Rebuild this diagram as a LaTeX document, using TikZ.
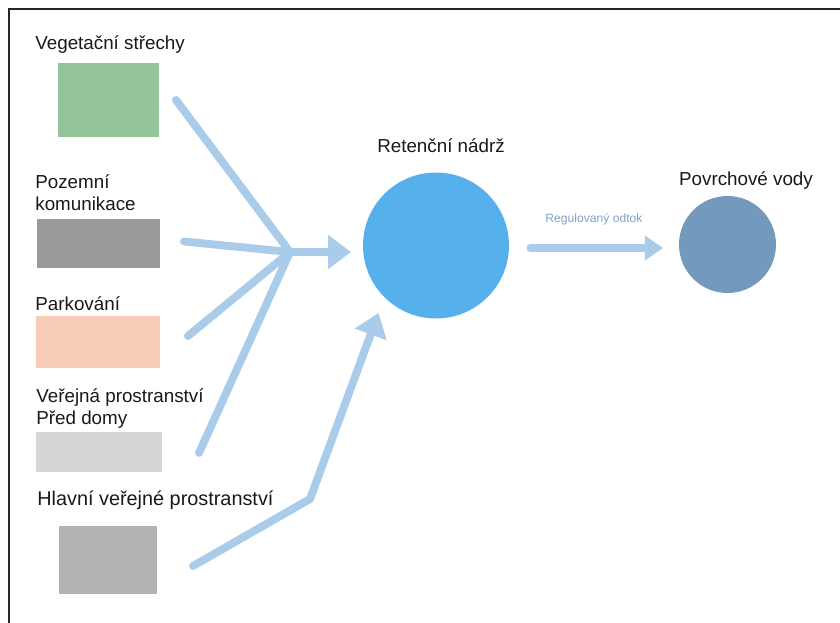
\documentclass[tikz,border=0pt]{standalone}
\usepackage{fontspec}
\setmainfont{Liberation Sans}
\usepackage{xcolor}
\definecolor{rgreen}{RGB}{147,196,154}
\definecolor{rroad}{RGB}{153,153,153}
\definecolor{rpark}{RGB}{248,205,184}
\definecolor{rfront}{RGB}{214,214,214}
\definecolor{rmain}{RGB}{179,179,179}
\definecolor{rtank}{RGB}{85,176,236}
\definecolor{rsea}{RGB}{115,153,188}
\definecolor{rflow}{RGB}{169,204,234}
\definecolor{rlabel}{RGB}{126,163,204}
\usetikzlibrary{arrows.meta, calc}

\begin{document}
\begin{tikzpicture}[x=0.02cm, y=-0.02cm,
  patch/.style={inner sep=0pt, outer sep=0pt},
  surf/.style={font=\fontsize{10.7}{12.5}\selectfont, text=black!90,
               anchor=base west, align=left, inner sep=0pt},
  flow/.style={rflow, line width=4.5pt, line cap=round, line join=round},
  flowlabel/.style={font=\fontsize{6.9}{8}\selectfont, text=rlabel, inner sep=0pt}]

\useasboundingbox (0,0) rectangle (840,623);

% Frame
\draw[line width=0.9pt, black!85] (9,623) -- (9,9) -- (840,9);

% === Sources ===
\node[surf] (roofT) at (35,49) {Vegetační střechy};
\node[patch, fill=rgreen, minimum width=2.02cm, minimum height=1.48cm]
      (root) at (108.5,100) {};

\node[surf] (roadT) at (35,210) {Pozemní\\komunikace};
\node[patch, fill=rroad, minimum width=2.46cm, minimum height=0.98cm]
      (road) at (98.5,243.5) {};

\node[surf] (parkT) at (35,310) {Parkování};
\node[patch, fill=rpark, minimum width=2.48cm, minimum height=1.04cm]
      (park) at (98,342) {};

\node[surf] (frontT) at (36,424) {Veřejná prostranství\\Před domy};
\node[patch, fill=rfront, minimum width=2.52cm, minimum height=0.80cm]
      (front) at (99,452) {};

\node[surf, font=\fontsize{11.3}{13}\selectfont] (mainT) at (37,505)
      {Hlavní veřejné prostranství};
\node[patch, fill=rmain, minimum width=1.96cm, minimum height=1.38cm]
      (main) at (108,560) {};

% === Retention tank ===
\node[patch, circle, fill=rtank, minimum size=2.92cm] (tank) at (436,245.5) {};
\node[surf, anchor=base] (tankT) at (441,152) {Retenční nádrž};

% === Surface water ===
\node[patch, circle, fill=rsea, minimum size=1.94cm] (sea) at (727.5,244.5) {};
\node[surf, anchor=base] (seaT) at (746,185) {Povrchové vody};

% Collecting lines
\coordinate (J) at (290,252);
\coordinate (bend) at (310,499);
\draw[flow] ($(root.east)+(17,0)$) -- (J);
\draw[flow] ($(road.east)+(24,-2)$) -- (J);
\draw[flow] ($(park.east)+(28,-6)$) -- (J);
\draw[flow] ($(front.east)+(37,1)$) -- (J);
\draw[flow, -{Triangle[length=13pt, width=18.5pt]}, shorten >=6.8pt]
      (J) -- (J -| tank.west);

% Main public space, own branch
\draw[flow, -{Triangle[length=13pt, width=18.5pt]}, shorten >=9.6pt]
      ($(main.east)+(36,6)$) -- (bend) -- (tank.225);

% Regulated outflow
\draw[flow, line width=4pt, -{Triangle[length=10.5pt, width=13.5pt]},
      shorten <=12pt, shorten >=9pt]
      ($(tank.east)+(0,2.5)$) -- node[flowlabel, above=11pt] {Regulovaný odtok}
      ($(sea.west)+(0,3.5)$);

\end{tikzpicture}
\end{document}
